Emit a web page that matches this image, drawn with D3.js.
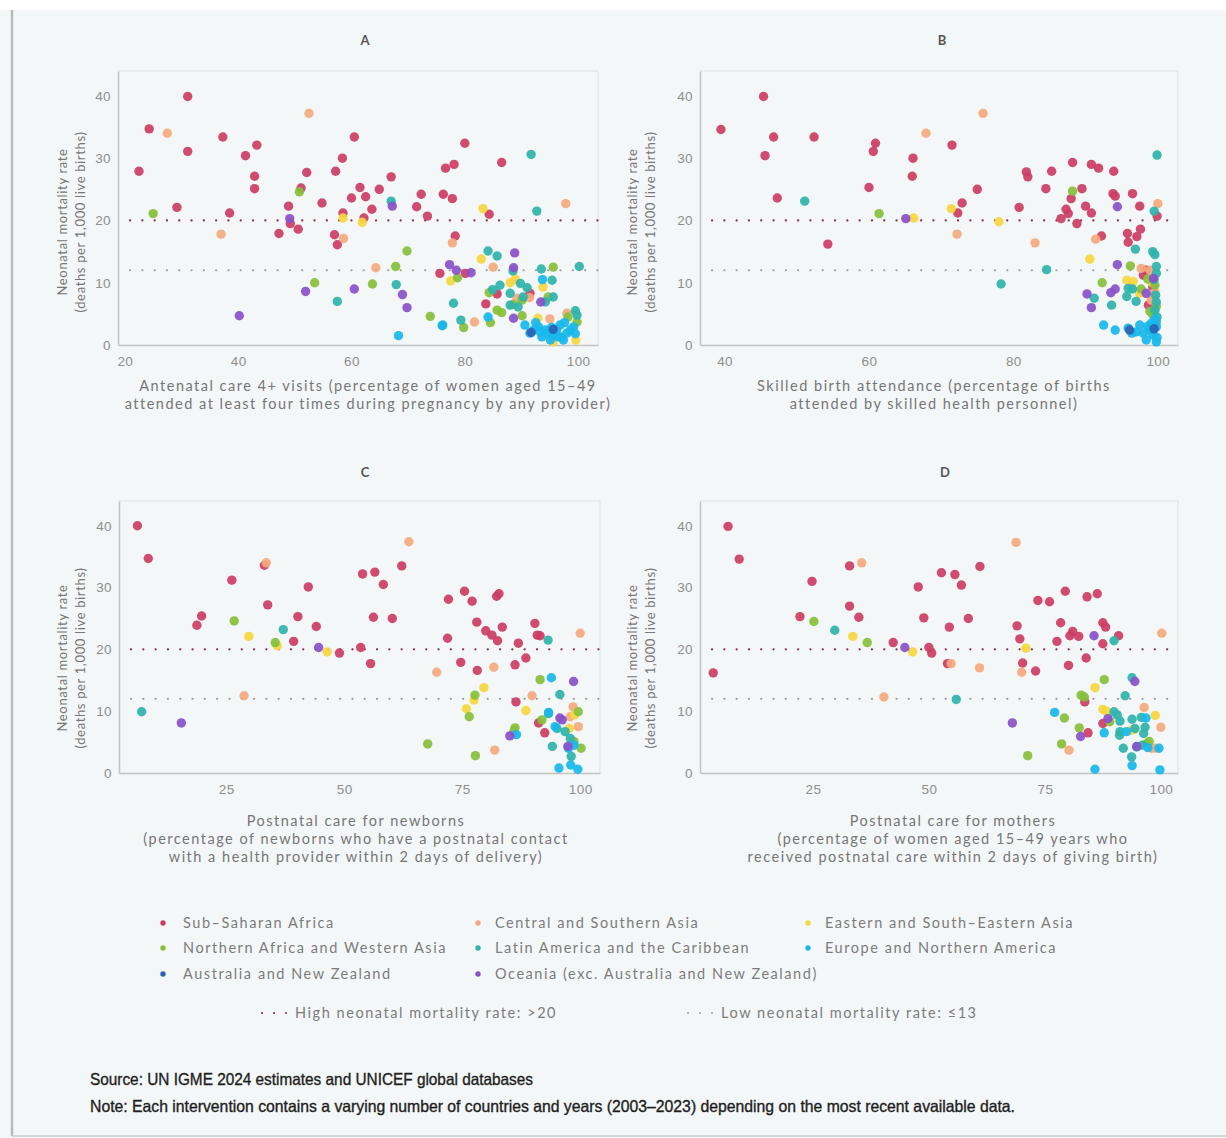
<!DOCTYPE html>
<html lang="en">
<head>
  <meta charset="UTF-8">
  <title>Neonatal mortality rate and coverage of interventions</title>
  <style>
    body { margin: 0; background: #fff; }
    svg { display: block; font-family: Lato, 'Open Sans', sans-serif; }
    .tick text { fill: #8e8e8e; font-size: 13.5px; letter-spacing: 0.4px; }
    .axis .domain { stroke: #c2c4c4; stroke-width: 1.5; }
    .frame { stroke: #dfe1e1; stroke-width: 1; fill: none; }
    .panel-title { fill: #555; font-size: 13px; font-weight: bold; }
    .x-title { fill: #767676; font-size: 14.5px; letter-spacing: 1.5px; }
    .y-title { fill: #767676; font-size: 13px; letter-spacing: 0.65px; }
    .legend text { fill: #7c7c7c; font-size: 14.5px; letter-spacing: 1.55px; }
    .notes text { fill: #1e1e1e; stroke: #1e1e1e; stroke-width: 0.35px; font-size: 16.5px; font-family: 'Liberation Sans', Arimo, sans-serif; }
  </style>
</head>
<body>
  <svg width="1226" height="1138"></svg>
  <script src="https://cdn.jsdelivr.net/npm/d3@7"></script>
  <script>
    // regions (legend order) and their colours
    var regionCodes = ['SSA', 'CSA', 'ESEA', 'NAWA', 'LAC', 'ENA', 'ANZ', 'OCE']
    var regionNames = [
      'Sub\u2013Saharan Africa', 'Central and Southern Asia', 'Eastern and South\u2013Eastern Asia',
      'Northern Africa and Western Asia', 'Latin America and the Caribbean', 'Europe and Northern America',
      'Australia and New Zealand', 'Oceania (exc. Australia and New Zealand)'
    ]
    var regionColors = ['#cc3d65', '#f4aa7e', '#f6d640', '#87bf3b', '#2fb4ac', '#19b8ec', '#2c62b6', '#8a51c8']

    var yTicks = [0, 10, 20, 30, 40]
    var xTicksA = [20, 40, 60, 80, 100]
    var xTicksB = [40, 60, 80, 100]
    var xTicksCD = [25, 50, 75, 100]

    var highLine = 20
    var lowLine = 12
    var refLabels = ['High neonatal mortality rate: >20', 'Low neonatal mortality rate: \u226413']

    var yTitle = ['Neonatal mortality rate', '(deaths per 1,000 live births)']
    var xTitleA = ['Antenatal care 4+ visits (percentage of women aged 15\u201349', 'attended at least four times during pregnancy by any provider)']
    var xTitleB = ['Skilled birth attendance (percentage of births', 'attended by skilled health personnel)']
    var xTitleC = ['Postnatal care for newborns', '(percentage of newborns who have a postnatal contact', 'with a health provider within 2 days of delivery)']
    var xTitleD = ['Postnatal care for mothers', '(percentage of women aged 15\u201349 years who', 'received postnatal care within 2 days of giving birth)']

    var source = 'Source: UN IGME 2024 estimates and UNICEF global databases'
    var note = 'Note: Each intervention contains a varying number of countries and years (2003\u20132023) depending on the most recent available data.'

    // [coverage %, neonatal mortality rate, region]
    var antenatalCare = [
      [22.5,27.9,'SSA'],[24.3,34.7,'SSA'],[29.2,22.1,'SSA'],[31.1,39.9,'SSA'],[31.1,31.1,'SSA'],[37.3,33.4,'SSA'],[38.5,21.2,'SSA'],
      [41.3,30.4,'SSA'],[42.9,27.1,'SSA'],[42.9,25.1,'SSA'],[43.3,32.1,'SSA'],[47.2,17.9,'SSA'],[48.9,22.3,'SSA'],[49.2,19.5,'SSA'],
      [50.6,18.6,'SSA'],[51.1,25.2,'SSA'],[52.1,27.7,'SSA'],[54.8,22.8,'SSA'],[57.0,17.7,'SSA'],[57.2,27.9,'SSA'],[57.5,16.1,'SSA'],
      [58.4,30.0,'SSA'],[58.5,21.2,'SSA'],[60.0,23.6,'SSA'],[60.5,33.4,'SSA'],[61.5,25.3,'SSA'],[62.2,20.4,'SSA'],[62.5,23.8,'SSA'],
      [63.6,21.8,'SSA'],[64.9,25.0,'SSA'],[67.0,27.0,'SSA'],[71.5,22.2,'SSA'],[72.3,24.2,'SSA'],[73.4,20.7,'SSA'],[76.2,24.2,'SSA'],
      [76.6,28.4,'SSA'],[75.6,11.5,'SSA'],[77.8,23.5,'SSA'],[78.1,29.0,'SSA'],[78.3,17.5,'SSA'],[80.0,32.4,'SSA'],[80.1,11.5,'SSA'],
      [84.3,21.0,'SSA'],[86.5,29.3,'SSA'],[83.7,6.6,'SSA'],[85.7,8.2,'SSA'],[91.5,8.3,'SSA'],
      [27.5,34.0,'CSA'],[37.0,17.8,'CSA'],[52.5,37.2,'CSA'],[58.6,17.1,'CSA'],[64.3,12.4,'CSA'],[77.8,16.4,'CSA'],[81.7,3.7,'CSA'],
      [97.8,22.7,'CSA'],[85.0,12.5,'CSA'],[89.2,7.5,'CSA'],[95.0,4.2,'CSA'],[98.0,5.1,'CSA'],[91.4,7.6,'CSA'],
      [58.5,20.4,'ESEA'],[61.9,19.7,'ESEA'],[83.2,21.9,'ESEA'],[82.9,13.8,'ESEA'],[77.5,10.3,'ESEA'],[88.9,10.6,'ESEA'],[88.0,10.0,'ESEA'],
      [92.9,4.3,'ESEA'],[93.8,9.3,'ESEA'],[95.6,0.5,'ESEA'],[99.6,0.8,'ESEA'],
      [25.0,21.1,'NAWA'],[50.8,24.6,'NAWA'],[53.5,10.0,'NAWA'],[63.7,9.8,'NAWA'],[67.8,12.6,'NAWA'],[69.8,15.1,'NAWA'],[73.9,4.6,'NAWA'],
      [78.7,10.8,'NAWA'],[79.8,2.8,'NAWA'],[84.5,3.6,'NAWA'],[85.7,5.6,'NAWA'],[90.1,4.7,'NAWA'],[95.6,12.5,'NAWA'],[98.2,4.5,'NAWA'],
      [99.8,3.7,'NAWA'],[94.7,7.7,'NAWA'],[84.3,8.4,'NAWA'],[90.1,7.2,'NAWA'],[86.5,5.2,'NAWA'],[88.5,6.5,'NAWA'],
      [67.0,23.1,'LAC'],[67.9,9.7,'LAC'],[57.5,7.0,'LAC'],[78.0,6.7,'LAC'],[84.1,15.1,'LAC'],[85.7,14.3,'LAC'],[91.7,30.6,'LAC'],
      [92.7,21.5,'LAC'],[93.5,12.2,'LAC'],[100.2,12.6,'LAC'],[88.5,11.9,'LAC'],[95.4,10.4,'LAC'],[86.2,9.6,'LAC'],[88.0,8.3,'LAC'],
      [89.8,9.9,'LAC'],[90.3,7.7,'LAC'],[88.0,6.4,'LAC'],[89.4,6.1,'LAC'],[94.2,6.9,'LAC'],[95.6,7.7,'LAC'],[99.5,5.5,'LAC'],
      [99.8,4.8,'LAC'],[76.0,3.1,'LAC'],[79.3,4.0,'LAC'],[84.9,8.9,'LAC'],[91.0,9.2,'LAC'],
      [68.3,1.5,'ENA'],[76.1,3.2,'ENA'],[84.1,4.5,'ENA'],[93.7,10.5,'ENA'],[92.1,2.4,'ENA'],[93.0,2.9,'ENA'],[93.6,1.3,'ENA'],
      [94.5,1.9,'ENA'],[95.1,0.8,'ENA'],[96.2,2.4,'ENA'],[96.8,3.2,'ENA'],[97.1,1.3,'ENA'],[98.0,1.9,'ENA'],[98.6,2.4,'ENA'],
      [99.2,2.9,'ENA'],[91.5,1.9,'ENA'],[94.2,2.4,'ENA'],[95.6,1.6,'ENA'],[97.4,0.8,'ENA'],[95.3,2.8,'ENA'],[96.5,1.3,'ENA'],
      [93.3,2.1,'ENA'],[90.6,3.2,'ENA'],[97.6,3.6,'ENA'],[99.5,1.8,'ENA'],[92.5,3.6,'ENA'],
      [95.6,2.5,'ANZ'],[91.7,2.0,'ANZ'],
      [49.1,20.3,'OCE'],[51.9,8.6,'OCE'],[60.5,9.0,'OCE'],[40.2,4.7,'OCE'],[67.2,22.3,'OCE'],[69.0,8.1,'OCE'],[69.8,6.0,'OCE'],
      [77.3,12.9,'OCE'],[78.5,12.0,'OCE'],[81.1,11.6,'OCE'],[88.8,14.8,'OCE'],[88.6,12.4,'OCE'],[88.6,4.3,'OCE'],[93.4,6.9,'OCE']
    ]

    var skilledBirth = [
      [39.5,34.6,'SSA'],[45.4,39.9,'SSA'],[45.6,30.4,'SSA'],[46.8,33.4,'SSA'],[47.3,23.6,'SSA'],[52.4,33.4,'SSA'],[54.3,16.2,'SSA'],
      [60.0,25.3,'SSA'],[60.6,31.1,'SSA'],[60.9,32.4,'SSA'],[66.0,27.1,'SSA'],[66.1,30.0,'SSA'],[71.5,32.1,'SSA'],[72.3,21.2,'SSA'],
      [72.9,22.8,'SSA'],[75.0,25.0,'SSA'],[80.8,22.1,'SSA'],[81.8,27.8,'SSA'],[82.0,27.0,'SSA'],[84.5,25.1,'SSA'],[85.3,27.9,'SSA'],
      [86.6,20.3,'SSA'],[87.3,21.8,'SSA'],[87.6,21.1,'SSA'],[88.0,23.5,'SSA'],[88.2,29.3,'SSA'],[88.8,19.5,'SSA'],[89.5,25.1,'SSA'],
      [90.0,22.3,'SSA'],[90.8,29.0,'SSA'],[90.8,21.2,'SSA'],[91.8,28.4,'SSA'],[92.2,17.5,'SSA'],[93.9,27.9,'SSA'],[93.8,24.3,'SSA'],
      [94.1,23.9,'SSA'],[95.8,17.9,'SSA'],[95.9,16.5,'SSA'],[96.5,24.3,'SSA'],[97.1,17.4,'SSA'],[97.5,22.3,'SSA'],[97.6,18.6,'SSA'],
      [99.9,20.7,'SSA'],[98.0,11.2,'SSA'],[98.4,12.0,'SSA'],[98.7,6.4,'SSA'],[99.3,9.4,'SSA'],
      [67.9,34.0,'CSA'],[75.8,37.2,'CSA'],[72.2,17.8,'CSA'],[83.0,16.4,'CSA'],[91.4,17.0,'CSA'],[100.0,22.7,'CSA'],[97.7,12.3,'CSA'],
      [99.1,7.2,'CSA'],[99.3,7.7,'CSA'],[98.9,12.0,'CSA'],[99.6,8.5,'CSA'],
      [71.4,21.9,'ESEA'],[66.2,20.4,'ESEA'],[78.0,19.8,'ESEA'],[90.6,13.8,'ESEA'],[95.7,10.4,'ESEA'],[96.6,10.2,'ESEA'],[97.5,8.3,'ESEA'],
      [99.2,10.0,'ESEA'],
      [61.4,21.1,'NAWA'],[88.2,24.7,'NAWA'],[92.3,10.0,'NAWA'],[96.2,12.7,'NAWA'],[97.7,9.0,'NAWA'],[98.9,5.4,'NAWA'],[99.3,4.9,'NAWA'],
      [99.6,9.6,'NAWA'],[99.8,6.2,'NAWA'],[98.6,10.6,'NAWA'],
      [51.1,23.1,'LAC'],[78.3,9.8,'LAC'],[84.6,12.1,'LAC'],[96.9,15.4,'LAC'],[99.3,15.0,'LAC'],[99.6,14.5,'LAC'],[99.9,30.5,'LAC'],
      [99.5,21.5,'LAC'],[93.6,6.4,'LAC'],[91.2,7.5,'LAC'],[95.9,9.1,'LAC'],[95.7,7.8,'LAC'],[97.0,7.0,'LAC'],[99.8,12.6,'LAC'],
      [99.8,11.5,'LAC'],[99.6,5.6,'LAC'],[99.8,3.7,'LAC'],[99.3,2.7,'LAC'],[96.5,9.0,'LAC'],[99.7,8.0,'LAC'],[99.8,6.9,'LAC'],
      [99.9,4.5,'LAC'],[99.5,10.5,'LAC'],
      [92.5,3.2,'ENA'],[94.1,2.4,'ENA'],[95.9,2.7,'ENA'],[96.4,1.9,'ENA'],[97.5,3.2,'ENA'],[98.0,1.9,'ENA'],[98.4,0.8,'ENA'],
      [98.9,2.4,'ENA'],[99.3,1.6,'ENA'],[99.8,0.5,'ENA'],[99.8,2.9,'ENA'],[99.1,3.5,'ENA'],[97.0,2.1,'ENA'],[99.6,4.2,'ENA'],
      [99.9,1.2,'ENA'],[98.6,3.0,'ENA'],
      [96.1,2.4,'ANZ'],[99.5,2.6,'ANZ'],
      [65.1,20.3,'OCE'],[90.2,8.2,'OCE'],[90.8,6.0,'OCE'],[93.5,8.4,'OCE'],[94.1,9.0,'OCE'],[94.4,12.9,'OCE'],[94.4,22.2,'OCE'],
      [99.4,10.7,'OCE'],[98.4,8.3,'OCE']
    ]

    var postnatalNewborns = [
      [6.2,40.0,'SSA'],[8.5,34.7,'SSA'],[18.8,23.9,'SSA'],[19.8,25.4,'SSA'],[26.2,31.2,'SSA'],[33.1,33.6,'SSA'],[33.8,27.2,'SSA'],
      [39.3,21.3,'SSA'],[40.2,25.3,'SSA'],[42.4,30.1,'SSA'],[44.1,23.7,'SSA'],[49.0,19.4,'SSA'],[53.5,20.3,'SSA'],[53.9,32.2,'SSA'],
      [55.6,17.7,'SSA'],[56.2,25.2,'SSA'],[56.5,32.5,'SSA'],[58.3,30.5,'SSA'],[60.2,25.0,'SSA'],[62.2,33.5,'SSA'],[71.9,21.8,'SSA'],
      [72.1,28.1,'SSA'],[74.7,17.9,'SSA'],[75.5,29.4,'SSA'],[77.1,27.8,'SSA'],[78.1,24.4,'SSA'],[78.2,16.6,'SSA'],[80.0,23.0,'SSA'],
      [81.3,22.3,'SSA'],[82.5,21.4,'SSA'],[82.3,28.6,'SSA'],[82.8,29.0,'SSA'],[83.5,23.6,'SSA'],[86.2,17.5,'SSA'],[86.4,11.5,'SSA'],
      [86.9,21.0,'SSA'],[88.5,18.6,'SSA'],[90.4,24.2,'SSA'],[90.9,22.3,'SSA'],[91.5,22.2,'SSA'],[91.2,8.1,'SSA'],[92.5,6.5,'SSA'],
      [33.5,34.0,'CSA'],[63.7,37.4,'CSA'],[28.8,12.5,'CSA'],[69.6,16.3,'CSA'],[81.7,17.1,'CSA'],[89.8,12.5,'CSA'],[81.9,3.7,'CSA'],
      [100.0,22.6,'CSA'],[98.5,10.7,'CSA'],[99.6,7.5,'CSA'],[97.9,9.1,'CSA'],
      [29.8,22.1,'ESEA'],[35.8,20.6,'ESEA'],[46.4,19.6,'ESEA'],[75.9,10.4,'ESEA'],[77.5,11.8,'ESEA'],[79.6,13.8,'ESEA'],[88.5,10.1,'ESEA'],
      [98.8,9.4,'ESEA'],[97.7,7.2,'ESEA'],
      [26.7,24.6,'NAWA'],[35.4,21.1,'NAWA'],[67.7,4.7,'NAWA'],[76.5,9.1,'NAWA'],[77.7,12.6,'NAWA'],[77.8,2.8,'NAWA'],[86.2,7.3,'NAWA'],
      [91.5,15.1,'NAWA'],[91.9,8.6,'NAWA'],[98.7,5.1,'NAWA'],[99.6,9.9,'NAWA'],[100.2,4.0,'NAWA'],[86.0,6.8,'NAWA'],
      [7.1,9.9,'LAC'],[37.1,23.2,'LAC'],[93.2,21.5,'LAC'],[95.7,12.7,'LAC'],[94.1,4.3,'LAC'],[98.1,2.7,'LAC'],[93.3,9.6,'LAC'],
      [95.1,7.2,'LAC'],[96.8,6.7,'LAC'],[97.9,5.6,'LAC'],
      [93.9,15.4,'ENA'],[93.3,9.8,'ENA'],[94.7,7.5,'ENA'],[95.5,0.8,'ENA'],[98.0,1.3,'ENA'],[99.5,0.6,'ENA'],[98.7,4.5,'ENA'],
      [97.5,4.0,'ENA'],[86.5,6.2,'ENA'],
      [15.5,8.1,'OCE'],[44.6,20.3,'OCE'],[85.1,6.0,'OCE'],[95.7,8.9,'OCE'],[98.6,14.8,'OCE'],[97.4,4.3,'OCE'],[96.2,8.6,'OCE']
    ]

    var postnatalMothers = [
      [3.5,16.2,'SSA'],[6.7,39.9,'SSA'],[9.1,34.6,'SSA'],[22.2,25.3,'SSA'],[24.8,31.0,'SSA'],[32.9,33.5,'SSA'],[32.9,27.0,'SSA'],
      [34.9,25.2,'SSA'],[42.3,21.1,'SSA'],[47.7,30.1,'SSA'],[48.9,25.1,'SSA'],[50.0,20.3,'SSA'],[50.6,19.4,'SSA'],[52.7,32.4,'SSA'],
      [54.0,17.7,'SSA'],[54.4,23.6,'SSA'],[55.6,32.1,'SSA'],[57.0,30.4,'SSA'],[58.5,25.0,'SSA'],[61.0,33.4,'SSA'],[69.0,23.8,'SSA'],
      [69.6,21.7,'SSA'],[70.2,17.8,'SSA'],[73.0,16.5,'SSA'],[73.5,27.9,'SSA'],[76.0,27.7,'SSA'],[77.6,21.3,'SSA'],[78.4,24.3,'SSA'],
      [79.4,29.4,'SSA'],[80.1,17.4,'SSA'],[80.4,22.2,'SSA'],[81.0,22.9,'SSA'],[82.3,22.1,'SSA'],[83.9,18.6,'SSA'],[84.1,28.5,'SSA'],
      [83.6,11.5,'SSA'],[86.3,29.0,'SSA'],[87.5,24.3,'SSA'],[87.5,20.9,'SSA'],[88.1,23.6,'SSA'],[90.9,22.2,'SSA'],[84.3,6.5,'SSA'],
      [87.5,8.0,'SSA'],
      [35.5,34.0,'CSA'],[40.3,12.3,'CSA'],[54.8,17.7,'CSA'],[60.9,17.0,'CSA'],[68.8,37.3,'CSA'],[70.0,16.3,'CSA'],[80.2,3.7,'CSA'],
      [96.4,10.6,'CSA'],[98.0,4.0,'CSA'],[100.0,7.4,'CSA'],[100.2,22.6,'CSA'],[98.9,4.0,'CSA'],
      [33.6,22.1,'ESEA'],[46.5,19.6,'ESEA'],[70.9,20.2,'ESEA'],[85.8,13.8,'ESEA'],[87.5,10.3,'ESEA'],[88.3,10.0,'ESEA'],[94.4,7.1,'ESEA'],
      [98.8,9.3,'ESEA'],[93.5,6.9,'ESEA'],
      [25.2,24.5,'NAWA'],[36.7,21.1,'NAWA'],[71.3,2.8,'NAWA'],[78.6,4.7,'NAWA'],[79.2,8.9,'NAWA'],[82.4,7.3,'NAWA'],[82.8,12.6,'NAWA'],
      [83.5,12.3,'NAWA'],[87.8,15.1,'NAWA'],[89.0,8.3,'NAWA'],[97.5,5.1,'NAWA'],[96.9,4.7,'NAWA'],
      [29.7,23.1,'LAC'],[55.9,11.9,'LAC'],[89.9,21.4,'LAC'],[92.3,12.5,'LAC'],[93.8,15.4,'LAC'],[89.9,9.9,'LAC'],[90.6,9.4,'LAC'],
      [91.2,8.4,'LAC'],[93.8,8.7,'LAC'],[95.8,9.0,'LAC'],[91.2,6.7,'LAC'],[91.1,6.1,'LAC'],[94.4,7.2,'LAC'],[96.6,7.4,'LAC'],
      [96.3,6.4,'LAC'],[91.9,4.0,'LAC'],[93.7,2.6,'LAC'],[94.8,4.2,'LAC'],[96.0,4.5,'LAC'],
      [77.1,9.8,'ENA'],[87.8,6.5,'ENA'],[85.8,0.6,'ENA'],[93.8,1.2,'ENA'],[99.8,0.5,'ENA'],[96.8,8.9,'ENA'],[92.6,6.7,'ENA'],
      [97.2,4.1,'ENA'],[99.6,4.0,'ENA'],
      [44.8,20.3,'OCE'],[68.0,8.1,'OCE'],[82.7,5.9,'OCE'],[85.6,22.2,'OCE'],[88.6,8.8,'OCE'],[94.4,14.8,'OCE'],[94.8,4.3,'OCE']
    ]

    var svg = d3.select('svg')
    var color = d3.scaleOrdinal().domain(regionCodes).range(regionColors)

    // page background and outer rule
    svg.append('rect').attr('width', 1226).attr('height', 1138).attr('fill', '#f4f7f7')
    svg.append('rect').attr('width', 1226).attr('height', 10).attr('fill', '#fff')
    svg.append('line').attr('x1', 12).attr('x2', 12).attr('y1', 10).attr('y2', 1136)
      .attr('stroke', '#b9bcbc').attr('stroke-width', 2.5)
    svg.append('line').attr('x1', 12).attr('x2', 1226).attr('y1', 1136).attr('y2', 1136)
      .attr('stroke', '#c9cccc').attr('stroke-width', 1.5)

    var panels = [
      { label: 'A', data: antenatalCare, xDomain: [18.8, 103.5], xTicks: xTicksA, x0: 118, x1: 598, y0: 345, y1: 71,
        labelX: 365, labelY: 40, xTitle: xTitleA, xTitleX: 368, xTitleY: 386, yTitleX: 62, yTitleY: 222 },
      { label: 'B', data: skilledBirth, xDomain: [36.6, 102.8], xTicks: xTicksB, x0: 700, x1: 1178, y0: 345, y1: 71,
        labelX: 942, labelY: 40, xTitle: xTitleB, xTitleX: 934, xTitleY: 386, yTitleX: 632, yTitleY: 222 },
      { label: 'C', data: postnatalNewborns, xDomain: [2.3, 104.2], xTicks: xTicksCD, x0: 119, x1: 600, y0: 773, y1: 501,
        labelX: 365, labelY: 472, xTitle: xTitleC, xTitleX: 356, xTitleY: 821, yTitleX: 62, yTitleY: 658 },
      { label: 'D', data: postnatalMothers, xDomain: [0.65, 103.7], xTicks: xTicksCD, x0: 700, x1: 1178, y0: 773, y1: 501,
        labelX: 945, labelY: 472, xTitle: xTitleD, xTitleX: 953, xTitleY: 821, yTitleX: 632, yTitleY: 658 }
    ]

    panels.forEach(function(p) {
      var x = d3.scaleLinear().domain(p.xDomain).range([p.x0, p.x1])
      var y = d3.scaleLinear().domain([0, 44]).range([p.y0, p.y1])
      var g = svg.append('g')

      g.append('text')
        .attr('class', 'panel-title')
        .attr('x', p.labelX)
        .attr('y', p.labelY)
        .attr('dy', '0.35em')
        .attr('text-anchor', 'middle')
        .text(p.label)

      // light top/right frame
      g.append('path')
        .attr('class', 'frame')
        .attr('d', 'M' + p.x0 + ',' + p.y1 + 'H' + p.x1 + 'V' + p.y0)

      g.append('g')
        .attr('class', 'axis')
        .attr('transform', 'translate(0,' + p.y0 + ')')
        .call(d3.axisBottom(x).tickValues(p.xTicks).tickSize(0).tickSizeOuter(0).tickPadding(11))

      g.append('g')
        .attr('class', 'axis')
        .attr('transform', 'translate(' + p.x0 + ',0)')
        .call(d3.axisLeft(y).tickValues(yTicks).tickSize(0).tickSizeOuter(0).tickPadding(7))

      g.selectAll('.domain').attr('stroke', '#c2c4c4')
      g.selectAll('.tick text').attr('fill', '#8e8e8e')

      // threshold lines
      g.append('line')
        .attr('x1', p.x0 + 12).attr('x2', p.x1)
        .attr('y1', y(highLine)).attr('y2', y(highLine))
        .attr('stroke', '#8e2c43').attr('stroke-width', 2.2)
        .attr('stroke-linecap', 'round').attr('stroke-dasharray', '0.1 12.2')
      g.append('line')
        .attr('x1', p.x0 + 12).attr('x2', p.x1)
        .attr('y1', y(lowLine)).attr('y2', y(lowLine))
        .attr('stroke', '#9c9e9e').attr('stroke-width', 2.2)
        .attr('stroke-linecap', 'round').attr('stroke-dasharray', '0.1 12.2')

      g.selectAll('.dot')
        .data(p.data)
        .enter()
        .append('circle')
        .attr('class', 'dot')
        .attr('cx', function(d) { return x(d[0]) })
        .attr('cy', function(d) { return y(d[1]) })
        .attr('r', 4.7)
        .attr('fill', function(d) { return color(d[2]) })
        .attr('fill-opacity', 0.93)

      // axis titles
      var yt = g.append('g')
        .attr('transform', 'translate(' + p.yTitleX + ',' + p.yTitleY + ') rotate(-90)')
      yTitle.forEach(function(t, i) {
        yt.append('text')
          .attr('class', 'y-title')
          .attr('x', 0)
          .attr('y', i * 18)
          .attr('dy', '0.35em')
          .attr('text-anchor', 'middle')
          .text(t)
      })

      p.xTitle.forEach(function(t, i) {
        g.append('text')
          .attr('class', 'x-title')
          .attr('x', p.xTitleX)
          .attr('y', p.xTitleY + i * 18)
          .attr('dy', '0.35em')
          .attr('text-anchor', 'middle')
          .text(t)
      })
    })

    // region legend, three columns
    var legendCols = [163, 478, 808]
    var legendRows = [923, 948, 974]
    var legend = svg.append('g').attr('class', 'legend')
    regionCodes.forEach(function(code, i) {
      var cx = legendCols[i % 3]
      var cy = legendRows[Math.floor(i / 3)]
      legend.append('circle')
        .attr('cx', cx).attr('cy', cy).attr('r', 2.7)
        .attr('fill', color(code))
      legend.append('text')
        .attr('x', cx + (i % 3 === 0 ? 20 : 17))
        .attr('y', cy)
        .attr('dy', '0.35em')
        .text(regionNames[i])
    })

    // threshold legend
    var refColors = ['#8e2c43', '#9c9e9e']
    var refX = [262, 688]
    refLabels.forEach(function(t, i) {
      legend.append('line')
        .attr('x1', refX[i]).attr('x2', refX[i] + 24)
        .attr('y1', 1013).attr('y2', 1013)
        .attr('stroke', refColors[i]).attr('stroke-width', 2)
        .attr('stroke-linecap', 'round').attr('stroke-dasharray', '0.1 11.9')
      legend.append('text')
        .attr('x', refX[i] + 33)
        .attr('y', 1013)
        .attr('dy', '0.35em')
        .text(t)
    })

    var notes = svg.append('g').attr('class', 'notes')
    notes.append('text')
      .attr('x', 90).attr('y', 1079).attr('dy', '0.35em')
      .attr('textLength', 443).attr('lengthAdjust', 'spacingAndGlyphs')
      .text(source)
    notes.append('text')
      .attr('x', 90).attr('y', 1106).attr('dy', '0.35em')
      .attr('textLength', 925).attr('lengthAdjust', 'spacingAndGlyphs')
      .text(note)
  </script>
</body>
</html>
